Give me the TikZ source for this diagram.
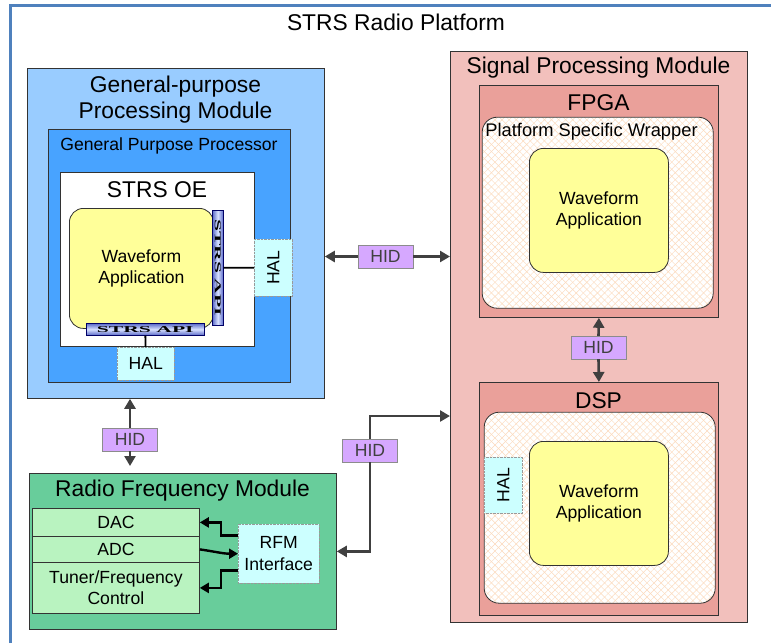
\documentclass[tikz,border=0pt]{standalone}
\usepackage{fontspec}
\usepackage{graphicx}
\setmainfont{Liberation Sans}
\newfontfamily\apifont{Liberation Serif}
\usetikzlibrary{arrows.meta, patterns.meta, positioning}
\definecolor{framecol}{RGB}{79,129,189}
\definecolor{gpmcol}{RGB}{153,204,255}
\definecolor{gppcol}{RGB}{72,163,255}
\definecolor{wavecol}{RGB}{255,255,153}
\definecolor{halcol}{RGB}{204,255,255}
\definecolor{hidcol}{RGB}{214,168,255}
\definecolor{spmcol}{RGB}{242,192,188}
\definecolor{chipcol}{RGB}{234,160,154}
\definecolor{hatchcol}{RGB}{252,218,188}
\definecolor{rfmcol}{RGB}{104,205,155}
\definecolor{convcol}{RGB}{185,243,192}
\definecolor{apiedge}{RGB}{90,105,200}
\definecolor{apimid}{RGB}{215,225,255}
\definecolor{arrowcol}{RGB}{64,64,64}

\begin{document}
\begin{tikzpicture}[x=1pt, y=-1pt,
  box/.style = {draw=black!80, line width=0.8pt, anchor=north west, inner sep=0pt},
  bigtext/.style = {font=\fontsize{22.8}{26}\selectfont, align=center},
  midtext/.style = {font=\fontsize{17.6}{21.5}\selectfont, align=center},
  wave/.style = {box, fill=wavecol, rounded corners=14pt, midtext},
  wrap/.style = {fill=white, anchor=north west, inner sep=0pt, rounded corners=15pt,
    postaction={pattern={Lines[angle=45, distance=5pt, line width=0.45pt]}, pattern color=hatchcol},
    postaction={pattern={Lines[angle=-45, distance=5pt, line width=0.45pt]}, pattern color=hatchcol},
    postaction={draw=black!80, line width=0.8pt}},
  hal/.style = {draw=black!40, densely dotted, fill=halcol, anchor=north west, inner sep=0pt, midtext},
  hid/.style = {draw=black!45, fill=hidcol, minimum width=55pt, minimum height=23pt, inner sep=0pt, text=black!75, midtext},
  apibar/.style = {draw=blue!40!black, line width=0.6pt, anchor=north west, inner sep=0pt},
  conv/.style = {box, fill=convcol, minimum width=167pt, midtext},
  link/.style = {draw=arrowcol, line width=2.6pt, -{Triangle[length=10pt, width=11pt]}},
  rfarr/.style = {draw=black, line width=2.4pt, -{Triangle[length=9pt, width=10pt]}},
  wire/.style = {draw=black, line width=1.8pt}]
\useasboundingbox (0,0) rectangle (771,643);
\newcommand{\apitext}{{\apifont\bfseries\fontsize{9}{9}\selectfont\scalebox{2.4}[1]{STRS API}}}

% platform frame
\draw[framecol, line width=3pt] (10,643) -- (10,5) -- (771,5);
\node[bigtext] (title) at (396,22) {STRS Radio Platform};

% general purpose processing module
\node[box, fill=gpmcol, minimum width=297pt, minimum height=330pt] (gpm) at (27,68) {};
\node[bigtext] (gpmtitle) at (175.5,100) {General-purpose\\Processing Module};
\node[box, fill=gppcol, minimum width=242pt, minimum height=253pt] (gpp) at (48,129) {};
\node[midtext] (gpptitle) at (169,145.5) {General Purpose Processor};
\node[box, fill=white, minimum width=194pt, minimum height=174pt] (oe) at (60,172) {};
\node[bigtext] (oetitle) at (157,190) {STRS OE};
\node[wave, minimum width=144pt, minimum height=120pt] (wfa1) at (69,208) {Waveform\\Application};
\node[apibar, minimum width=11pt, minimum height=115pt,
  left color=apiedge, right color=apiedge, middle color=apimid] (apiv) at (212,210) {\rotatebox{-90}{\apitext}};
\node[apibar, minimum width=118pt, minimum height=12pt,
  top color=apiedge, bottom color=apiedge, middle color=apimid] (apih) at (86,323) {\apitext};
\node[hal, minimum width=38pt, minimum height=57pt] (halr) at (254,239) {\rotatebox{90}{HAL}};
\node[hal, minimum width=57pt, minimum height=33pt] (halb) at (117,347) {HAL};
\draw[wire] (apiv) -- (halr);
\draw[wire] (apih) -- (halb);

% signal processing module
\node[box, fill=spmcol, minimum width=297pt, minimum height=571pt] (spm) at (450,51) {};
\node[bigtext] (spmtitle) at (598.5,68) {Signal Processing Module};
\node[box, fill=chipcol, minimum width=239pt, minimum height=232pt] (fpga) at (479,85) {};
\node[bigtext] (fpgatitle) at (598.5,103) {FPGA};
\node[wrap, minimum width=231pt, minimum height=191pt] (psw) at (482,117) {};
\node[font=\fontsize{18.3}{22}\selectfont] (pswtitle) at (591.5,132) {Platform Specific Wrapper};
\node[wave, minimum width=139pt, minimum height=124pt] (wfa2) at (529,148) {Waveform\\Application};
\node[box, fill=chipcol, minimum width=239pt, minimum height=233pt] (dsp) at (479,382) {};
\node[bigtext] (dsptitle) at (598.5,401) {DSP};
\node[wrap, minimum width=231pt, minimum height=191pt] (dspwrap) at (484,412) {};
\node[wave, minimum width=139pt, minimum height=124pt] (wfa3) at (529,441) {Waveform\\Application};
\node[hal, minimum width=38pt, minimum height=56pt] (hald) at (484,457) {\rotatebox{90}{HAL}};

% radio frequency module
\node[box, fill=rfmcol, minimum width=307pt, minimum height=156pt] (rfm) at (29,473) {};
\node[bigtext] (rfmtitle) at (182.5,491) {Radio Frequency Module};
\node[conv, minimum height=28pt] (dac) at (32,508) {DAC};
\node[conv, minimum height=26pt] (adc) at (32,536) {ADC};
\node[conv, minimum height=51pt] (tuner) at (32,562) {Tuner/Frequency\\Control};
\node[hal, minimum width=81pt, minimum height=59pt] (rfmi) at (238,524) {RFM\\Interface};
\draw[rfarr] ([yshift=-11.5pt]rfmi.north west) -- ++(-17,0) |- (dac.east);
\draw[rfarr] (adc.east) to[out=-8, in=180] (rfmi.west);
\draw[rfarr] ([yshift=13pt]rfmi.south west) -- ++(-17,0) |- (tuner.east);

% HID links
\node[hid] (hid1) at (385.5,256.5) {HID};
\node[hid] (hid2) at (598.5,347.5) {HID};
\node[hid] (hid3) at (130,439.5) {HID};
\node[hid] (hid4) at (370,450.5) {HID};
\coordinate (spmport) at (450,416);
\draw[link] (hid1.west) -- (hid1.west -| gpm.east);
\draw[link] (hid1.east) -- (hid1.east -| spm.west);
\draw[link] (hid2.north) -- (fpga.south);
\draw[link] (hid2.south) -- (dsp.north);
\draw[link] (hid3.north) -- (hid3.north |- gpm.south);
\draw[link, shorten >=7pt] (hid3.south) -- (hid3.south |- rfm.north);
\draw[link] (hid4.north) |- (spmport);
\draw[link] (hid4.south) |- (rfm.east);
\end{tikzpicture}
\end{document}
